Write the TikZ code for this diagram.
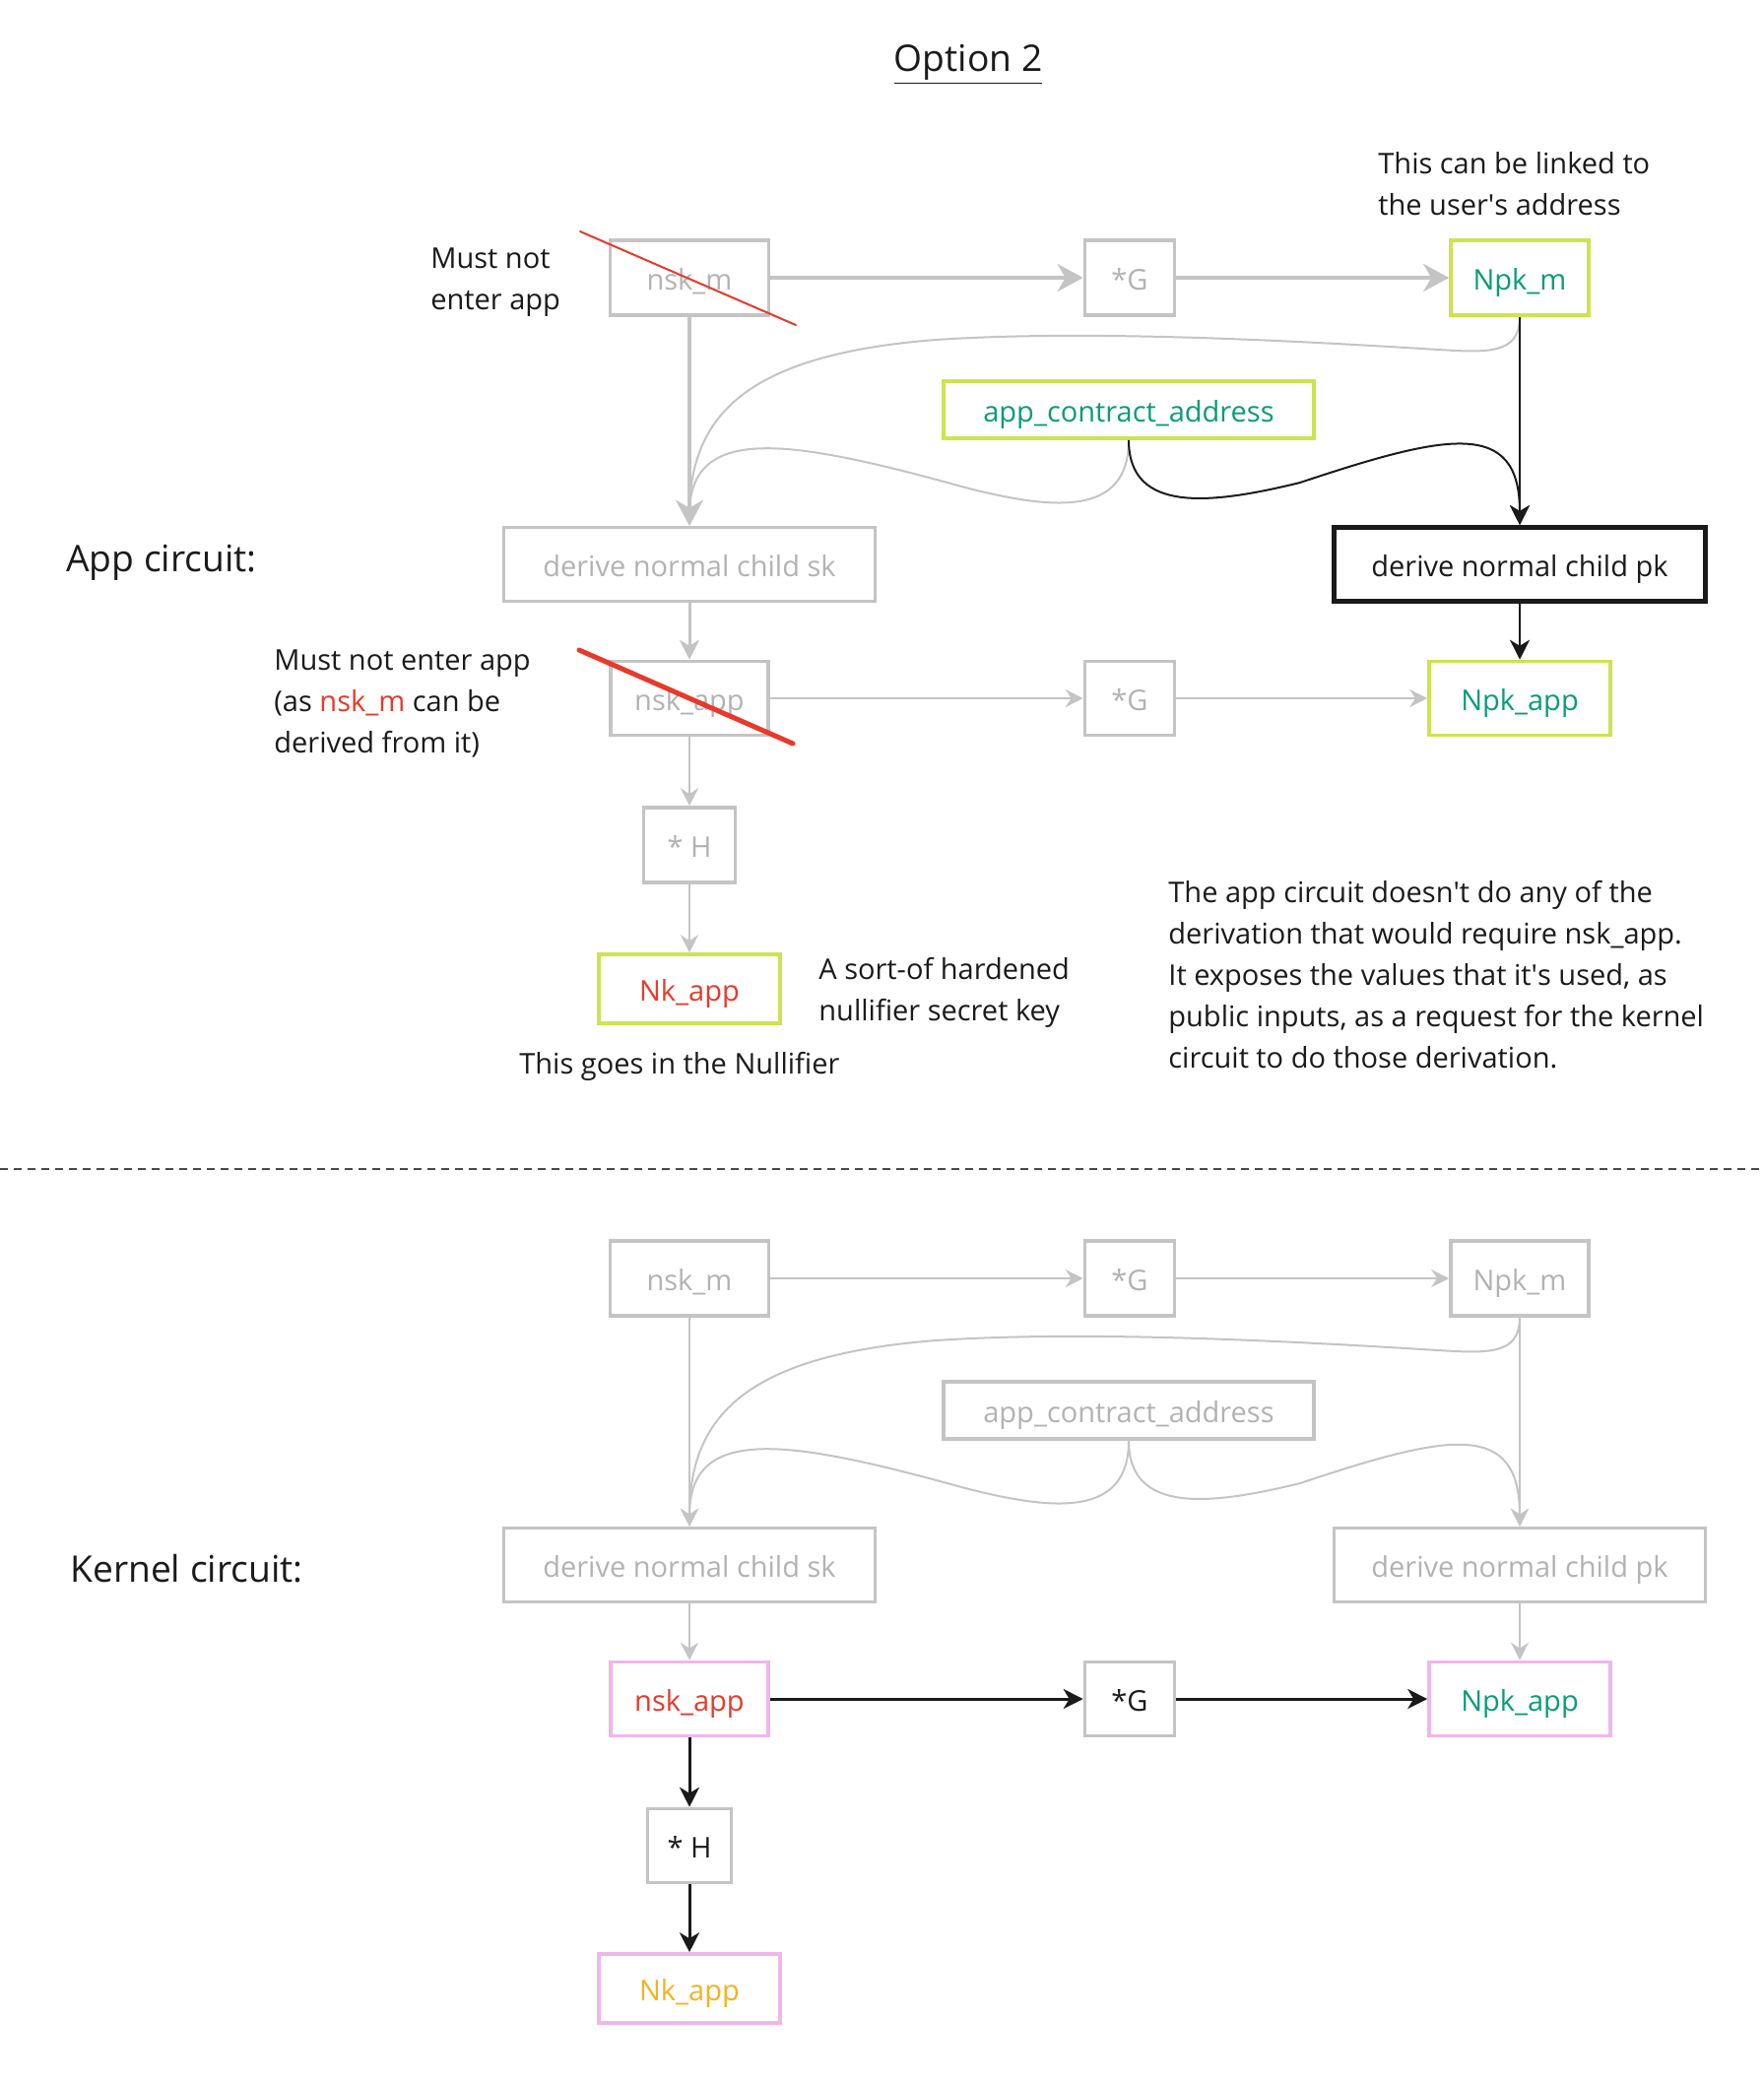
\documentclass[tikz,border=0pt]{standalone}
\usepackage{fontspec}
\setmainfont{Open Sans}
\usepackage{tikz}
\usetikzlibrary{arrows.meta}
\definecolor{boxgray}{HTML}{C4C4C4}
\definecolor{txtgray}{HTML}{B2B2B2}
\definecolor{limeline}{HTML}{CDE34F}
\definecolor{keygreen}{HTML}{0A9B78}
\definecolor{keyred}{HTML}{E8392B}
\definecolor{pinkline}{HTML}{F0B6EA}
\definecolor{keyorange}{HTML}{F5B21E}
\definecolor{inkblack}{HTML}{1A1A1A}

\begin{document}
\begin{tikzpicture}[x=0.5pt,y=-0.5pt,
	font=\fontsize{14.5}{21}\selectfont,
	box/.style={draw,rectangle,inner sep=0pt,line width=1.8pt,minimum height=38pt,text height=13.5pt,text depth=1.5pt},
	gbox/.style={box,draw=boxgray,text=txtgray},
	lbox/.style={box,draw=limeline,text=keygreen},
	pbox/.style={box,draw=pinkline},
	note/.style={anchor=west,align=left,inner sep=0pt,text=inkblack},
	head/.style={anchor=west,inner sep=0pt,text=inkblack,font=\fontsize{18.6}{24}\selectfont},
	fatgray/.style={draw=boxgray,line width=2pt,-{Stealth[length=13pt,width=14pt,inset=4pt]}},
	midgray/.style={draw=boxgray,line width=1.5pt,-{Stealth[length=10pt,width=10pt,inset=3pt]}},
	thingray/.style={draw=boxgray,line width=1pt,-{Stealth[length=9pt,width=9pt,inset=3pt]}},
	darkthin/.style={draw=inkblack,line width=1pt,-{Stealth[length=10pt,width=10pt,inset=3pt]}},
	darkmid/.style={draw=inkblack,line width=1.5pt,-{Stealth[length=10pt,width=10pt,inset=3pt]}},
	strike/.style={draw=keyred,line cap=round}]
\useasboundingbox (0,0) rectangle (1790,2116);

% title
\node[head,anchor=center] (title) at (983,65) {\underline{Option 2}};

% app circuit
\node[gbox,minimum width=80.5pt] (nskM) at (700,282) {nsk\_m};
\node[gbox,minimum width=45.5pt] (gA) at (1147,282) {*G};
\node[lbox,minimum width=70pt] (npkM) at (1543,282) {Npk\_m};
\node[lbox,minimum width=188pt,minimum height=29pt] (aca) at (1146,416) {app\_contract\_address};
\node[gbox,minimum width=188.5pt,minimum height=37.5pt] (dsk) at (700,573) {derive normal child sk};
\node[box,draw=inkblack,line width=2.5pt,text=inkblack,minimum width=188.5pt,minimum height=37.5pt] (dpk) at (1543,573) {derive normal child pk};
\node[gbox,minimum width=80pt,minimum height=37.5pt] (nskApp) at (700,709) {nsk\_app};
\node[gbox,minimum width=45.5pt,minimum height=37.5pt] (gB) at (1147,709) {*G};
\node[lbox,minimum width=92pt,minimum height=37.5pt] (npkApp) at (1543,709) {Npk\_app};
\node[gbox,minimum width=46.5pt] (hA) at (700,858) {* H};
\node[box,draw=limeline,text=keyred,minimum width=92pt,minimum height=35pt] (nkApp) at (700,1004) {Nk\_app};

\draw[fatgray] (nskM) -- (gA);
\draw[fatgray] (gA) -- (npkM);
\draw[fatgray] (nskM) -- (dsk);
\draw[thingray] (npkM.south) .. controls (1543,360) and (1510,358) .. (1460,355) .. controls (1300,345) and (1100,335) .. (950,345) .. controls (760,360) and (700,420) .. (dsk.north);
\draw[thingray] (aca.south) .. controls (1146,525) and (1070,518) .. (980,495) .. controls (800,445) and (700,430) .. (dsk.north);
\draw[darkthin] (aca.south) .. controls (1146,522) and (1230,512) .. (1320,490) .. controls (1470,440) and (1543,425) .. (dpk.north);
\draw[darkthin] (npkM) -- (dpk);
\draw[midgray] (dsk) -- (nskApp);
\draw[darkthin] (dpk) -- (npkApp);
\draw[thingray] (nskApp) -- (gB);
\draw[thingray] (gB) -- (npkApp);
\draw[thingray] (nskApp) -- (hA);
\draw[thingray] (hA) -- (nkApp);

\coordinate (crossA1) at (589,235);
\coordinate (crossA2) at (808,330);
\coordinate (crossB1) at (588,660);
\coordinate (crossB2) at (805,755);
\draw[strike,line width=1pt] (crossA1) -- (crossA2);
\draw[strike,line width=2.5pt] (crossB1) -- (crossB2);

\node[note] (mustA) at (437,287) {Must not\\enter app};
\node[note] (linked) at (1399,187) {This can be linked to\\the user\textquotesingle s address};
\node[head] (appC) at (67,571) {App circuit:};
\node[note] (mustB) at (278,714) {Must not enter app\\(as \textcolor{keyred}{nsk\_m} can be\\derived from it)};
\node[note] (sortof) at (831,1008) {A sort-of hardened\\nullifier secret key};
\node[note] (goes) at (527,1083) {This goes in the Nullifier};
\node[note] (expl) at (1186,990) {The app circuit doesn\textquotesingle t do any of the\\derivation that would require nsk\_app.\\It exposes the values that it\textquotesingle s used, as\\public inputs, as a request for the kernel\\circuit to do those derivation.};

% separator
\coordinate (sepL) at (0,1187);
\coordinate (sepR) at (1790,1187);
\draw[draw=inkblack!80,line width=1pt,dash pattern=on 4pt off 3pt] (sepL) -- (sepR);

% kernel circuit
\node[head] (kernC) at (71,1593) {Kernel circuit:};
\node[gbox,minimum width=80.5pt] (nskM2) at (700,1298) {nsk\_m};
\node[gbox,minimum width=45.5pt] (gC) at (1147,1298) {*G};
\node[gbox,minimum width=70pt] (npkM2) at (1543,1298) {Npk\_m};
\node[gbox,minimum width=188pt,minimum height=29pt] (aca2) at (1146,1432) {app\_contract\_address};
\node[gbox,minimum width=188.5pt,minimum height=37.5pt] (dsk2) at (700,1589) {derive normal child sk};
\node[gbox,minimum width=188.5pt,minimum height=37.5pt] (dpk2) at (1543,1589) {derive normal child pk};
\node[pbox,text=keyred,minimum width=80pt,minimum height=37.5pt] (nskApp2) at (700,1725) {nsk\_app};
\node[box,draw=boxgray,text=inkblack,minimum width=45.5pt,minimum height=37.5pt] (gD) at (1147,1725) {*G};
\node[pbox,text=keygreen,minimum width=92pt,minimum height=37.5pt] (npkApp2) at (1543,1725) {Npk\_app};
\node[box,draw=boxgray,text=inkblack,minimum width=42.5pt,minimum height=37.5pt] (hB) at (700,1874) {* H};
\node[pbox,text=keyorange,minimum width=92pt,minimum height=35pt] (nkApp2) at (700,2019) {Nk\_app};

\draw[thingray] (nskM2) -- (gC);
\draw[thingray] (gC) -- (npkM2);
\draw[thingray] (nskM2) -- (dsk2);
\draw[thingray] (npkM2.south) .. controls (1543,1376) and (1510,1374) .. (1460,1371) .. controls (1300,1361) and (1100,1351) .. (950,1361) .. controls (760,1376) and (700,1436) .. (dsk2.north);
\draw[thingray] (aca2.south) .. controls (1146,1541) and (1070,1534) .. (980,1511) .. controls (800,1461) and (700,1446) .. (dsk2.north);
\draw[thingray] (aca2.south) .. controls (1146,1538) and (1230,1528) .. (1320,1506) .. controls (1470,1456) and (1543,1441) .. (dpk2.north);
\draw[thingray] (npkM2) -- (dpk2);
\draw[thingray] (dsk2) -- (nskApp2);
\draw[thingray] (dpk2) -- (npkApp2);
\draw[darkmid] (nskApp2) -- (gD);
\draw[darkmid] (gD) -- (npkApp2);
\draw[darkmid] (nskApp2) -- (hB);
\draw[darkmid] (hB) -- (nkApp2);
\end{tikzpicture}
\end{document}
